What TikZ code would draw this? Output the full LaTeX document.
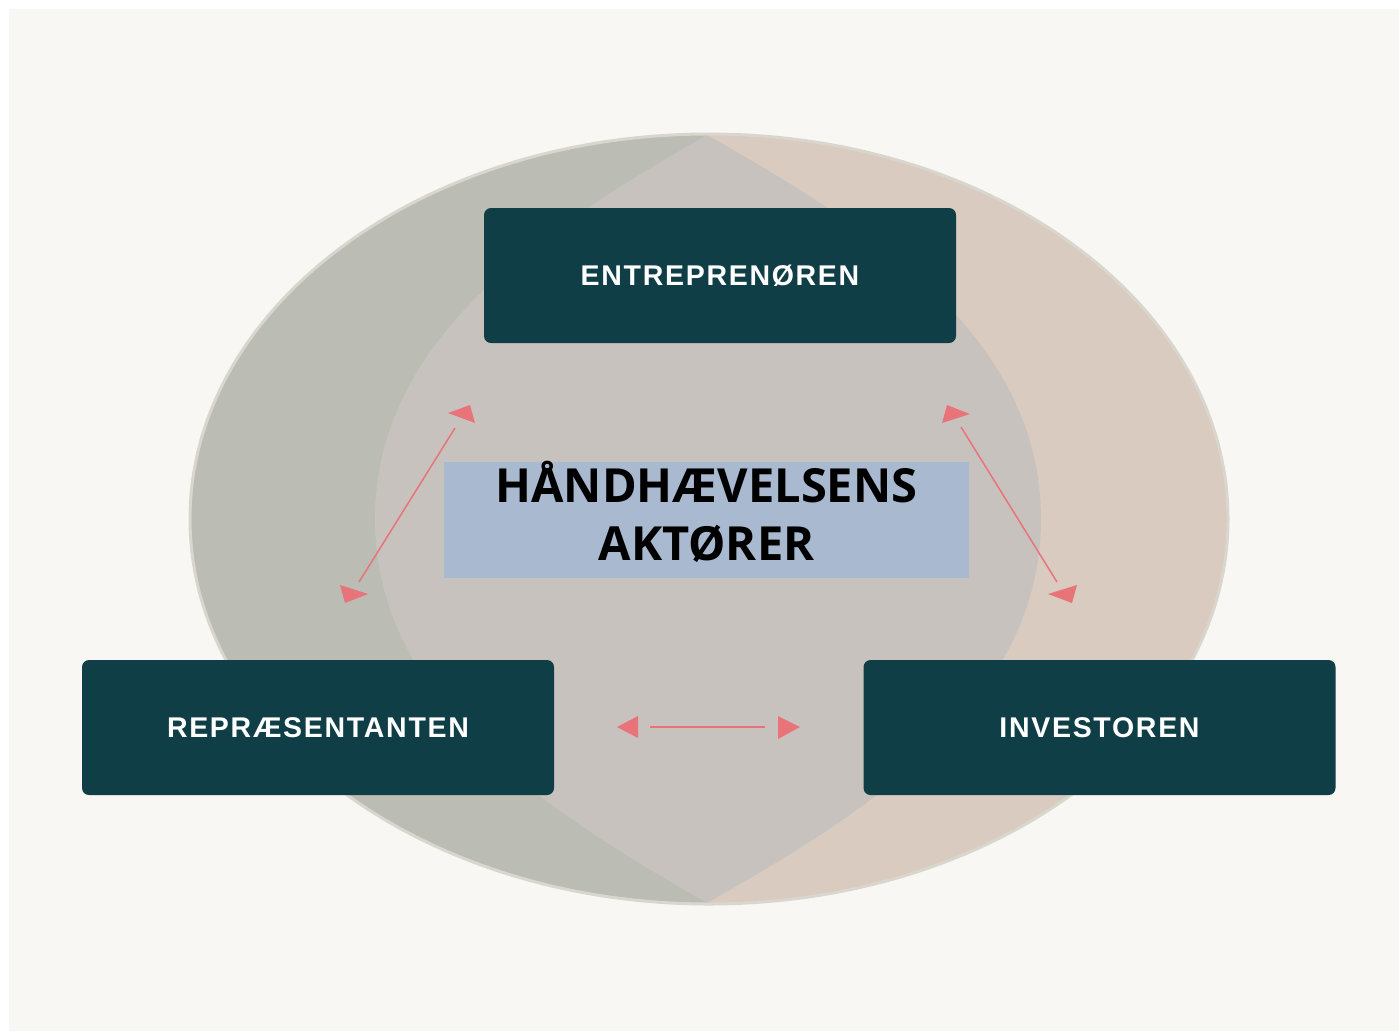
\documentclass[tikz,border=0pt]{standalone}
\usepackage{fontspec}
\newfontfamily\actorfont[LetterSpace=6]{Liberation Sans}
\newfontfamily\titlefont{Open Sans}
\definecolor{pagebg}{HTML}{F8F7F3}
\definecolor{leftgray}{HTML}{BBBCB4}
\definecolor{rightbeige}{HTML}{D9CBBF}
\definecolor{lenscol}{HTML}{C8C2BF}
\definecolor{rimcol}{HTML}{D9D6CD}
\definecolor{boxteal}{HTML}{0F3E47}
\definecolor{titleblue}{HTML}{A9B9CF}
\definecolor{arrowpink}{HTML}{E8747A}
\tikzset{
  actor/.style={fill=boxteal, rounded corners=7pt, minimum width=472pt, minimum height=135pt,
    inner sep=0pt, text=white, font=\actorfont\bfseries\fontsize{28.5}{32}\selectfont},
  titlebox/.style={fill=titleblue, minimum width=525pt, minimum height=116pt, inner sep=0pt},
  titletext/.style={inner sep=0pt, align=center, text=black,
    font=\titlefont\bfseries\fontsize{47}{58}\selectfont},
  linkline/.style={draw=arrowpink, line width=1.5pt},
  linkhead/.style={fill=arrowpink}
}
\begin{document}
\begin{tikzpicture}[x=1pt,y=-1pt]
\useasboundingbox (0,0) rectangle (1399,1034);
\fill[white] (0,0) rectangle (1399,1034);
\fill[pagebg] (9,9) rectangle (1399,1031);
% big ellipse, left grey / right beige
\fill[leftgray] (709,519) ellipse [x radius=519, y radius=385];
\begin{scope}
  \clip (709,519) ellipse [x radius=519, y radius=385];
  \fill[rightbeige] (708,100) rectangle (1240,940);
\end{scope}
% lens overlap
\fill[lenscol] (707,135) .. controls (560,220) and (375,330) .. (375,519)
  .. controls (375,708) and (560,818) .. (707,903)
  .. controls (856,818) and (1041,708) .. (1041,519)
  .. controls (1041,330) and (856,220) .. (707,135) -- cycle;
\draw[rimcol, line width=3pt] (709,519) ellipse [x radius=519, y radius=385];
% actors
\node[actor] (entr) at (720,275.5) {ENTREPRENØREN};
\node[actor] (repr) at (318,727.5) {REPRÆSENTANTEN};
\node[actor] (inv) at (1099.5,727.5) {INVESTOREN};
% title
\node[titlebox] (title) at (706.5,520) {};
\node[titletext] (titletext) at ([yshift=8pt]title.center) {HÅNDHÆVELSENS\\AKTØRER};
% arrow end points
\coordinate (l1) at (455,428); \coordinate (l2) at (359,582);
\coordinate (r1) at (961,427); \coordinate (r2) at (1057,582);
\coordinate (h1) at (650,727); \coordinate (h2) at (765,727);
\draw[linkline] (l1) -- (l2);
\draw[linkline] (r1) -- (r2);
\draw[linkline] (h1) -- (h2);
% arrow heads
\fill[linkhead] (448,413) -- (470,405) -- (475,423) -- cycle;
\fill[linkhead] (340,585) -- (368,594) -- (345,603) -- cycle;
\fill[linkhead] (942,423) -- (947,405) -- (970,414) -- cycle;
\fill[linkhead] (1048,594) -- (1077,585) -- (1072,603) -- cycle;
\fill[linkhead] (617,727) -- (638,716) -- (638,738) -- cycle;
\fill[linkhead] (778,716) -- (800,727) -- (778,739) -- cycle;
\end{tikzpicture}
\end{document}
